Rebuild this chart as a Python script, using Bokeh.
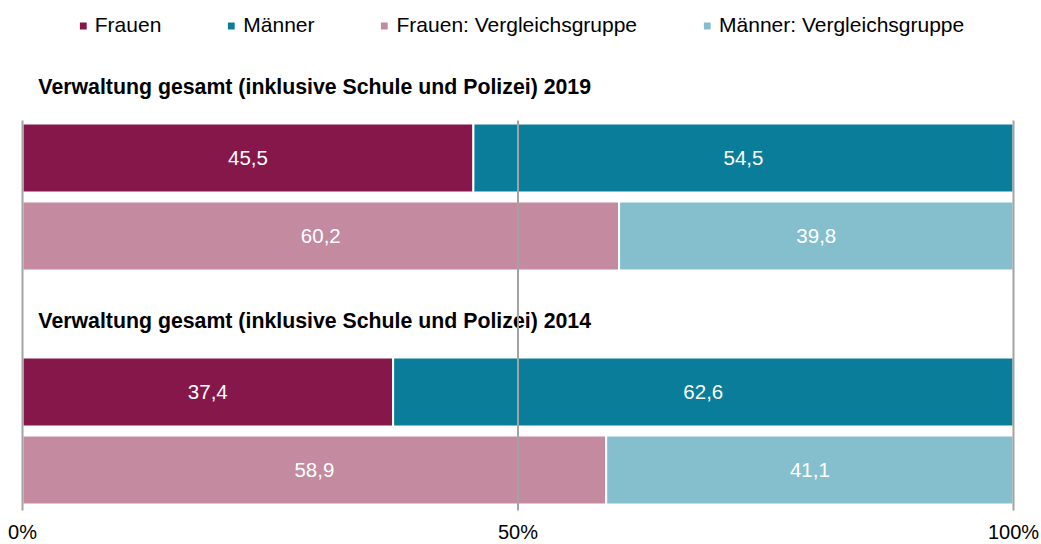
from bokeh.plotting import figure
from bokeh.models import ColumnDataSource, Range1d, Legend, LegendItem
from bokeh.core.properties import value
from bokeh.embed import file_html
from bokeh.resources import INLINE

# ---- data ----
years = ["2019", "2014"]
group_title = "Verwaltung gesamt (inklusive Schule und Polizei)"
series_names = ["Frauen", "Männer", "Frauen: Vergleichsgruppe", "Männer: Vergleichsgruppe"]
frauen = [45.5, 37.4]
maenner = [54.5, 62.6]
frauen_vg = [60.2, 58.9]
maenner_vg = [39.8, 41.1]
tick_values = [0, 50, 100]
tick_labels = ["0%", "50%", "100%"]

# ---- style ----
colors = ["#85174A", "#0A7D9A", "#C38AA0", "#85BFCE"]
FONT = "Liberation Sans"
GRID = "#A3A3A3"

# ---- layout in row units ----
group_base = [3 * i for i in range(len(years))]
row_main = [b for b in group_base]
row_cmp = [b + 1 for b in group_base]
bar_h = 0.885

W, H = 1041, 544
X0_PX, X100_PX = 22, 1013
px_per_x = (X100_PX - X0_PX) / 100.0
x_start = -X0_PX / px_per_x
x_end = 100 + (W - X100_PX) / px_per_x
ROW0_PX = 157.5
px_per_row = 78.0
y_top = (0 - ROW0_PX) / px_per_row
y_bot = (H - ROW0_PX) / px_per_row

p = figure(width=W, height=H, output_backend="svg", toolbar_location=None,
           x_range=Range1d(x_start, x_end), y_range=Range1d(y_bot, y_top),
           x_axis_location=None, y_axis_location=None, min_border=0,
           background_fill_color="white", border_fill_color="white")
p.outline_line_color = None
p.grid.visible = False


def fmt(v):
    return f"{v:.1f}".replace(".", ",")


def make_source(vals, lefts, rows):
    rights = [l + v for l, v in zip(lefts, vals)]
    return ColumnDataSource(dict(
        y=rows, left=lefts, right=rights,
        mid=[(l + r) / 2 for l, r in zip(lefts, rights)],
        label=[fmt(v) for v in vals]))


zeros = [0] * len(years)
sources = [
    make_source(frauen, zeros, row_main),
    make_source(maenner, frauen, row_main),
    make_source(frauen_vg, zeros, row_cmp),
    make_source(maenner_vg, frauen_vg, row_cmp),
]

renderers = []
for src, col in zip(sources, colors):
    r = p.hbar(y="y", left="left", right="right", height=bar_h, source=src,
               fill_color=col, line_color="white", line_width=2)
    renderers.append(r)
    p.text(x="mid", y="y", text="label", source=src, text_color="white",
           text_align="center", text_baseline="middle",
           text_font=value(FONT), text_font_size="20.5px")

# group titles
title_src = ColumnDataSource(dict(
    x=[1.6] * len(years),
    y=[b - 0.91 for b in group_base],
    t=[f"{group_title} {yr}" for yr in years]))
p.text(x="x", y="y", text="t", source=title_src, text_color="black",
       text_align="left", text_baseline="middle", text_font=value(FONT),
       text_font_size="21.3px", text_font_style="bold")

# grid lines (drawn over bars)
p.segment(x0=tick_values, x1=tick_values,
          y0=[row_main[0] - 0.48] * len(tick_values),
          y1=[row_cmp[-1] + 0.52] * len(tick_values),
          line_color=GRID, line_width=2)

# x tick labels
p.text(x=tick_values, y=[row_cmp[-1] + 0.80] * len(tick_values), text=tick_labels,
       text_color="black", text_align="center", text_baseline="middle",
       text_font=value(FONT), text_font_size="20px")

legend = Legend(items=[LegendItem(label=n, renderers=[r]) for n, r in zip(series_names, renderers)],
                orientation="horizontal", location="top_center",
                glyph_width=11, glyph_height=11, label_standoff=7, spacing=64,
                padding=0, margin=13, border_line_color=None, background_fill_alpha=0,
                label_text_font=FONT, label_text_font_size="21px", label_text_color="black")
p.add_layout(legend)

open("out.html", "w").write(file_html(p, INLINE))
